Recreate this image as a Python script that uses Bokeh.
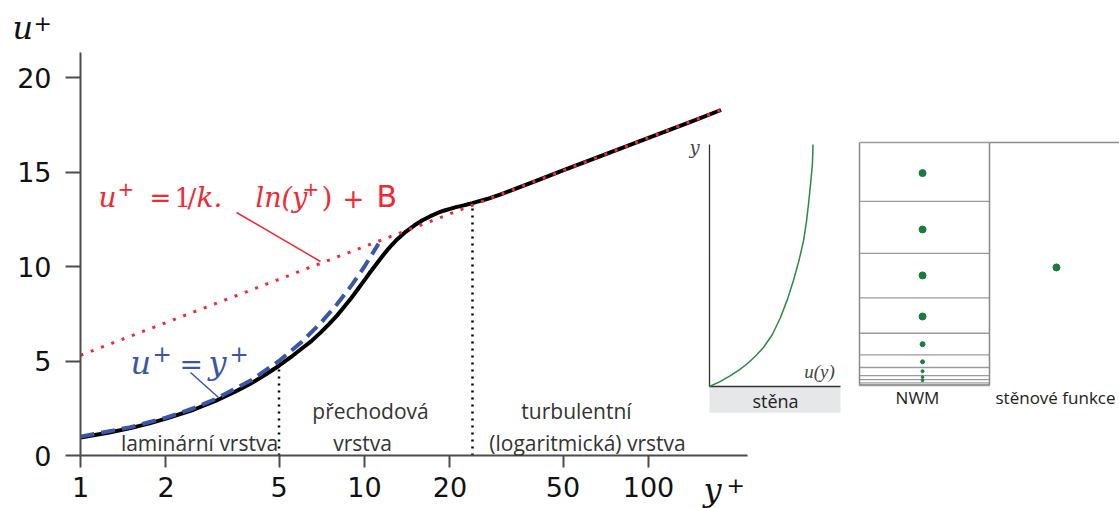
from bokeh.plotting import figure
from bokeh.models import Range1d, FixedTicker, Label, LinearScale
from bokeh.embed import file_html
from bokeh.resources import INLINE

# ---------------- main chart data ----------------
wall_yplus = [1, 1.25, 1.5, 1.75, 2, 2.5, 3, 3.5, 4, 4.5, 5, 5.5, 6, 6.5, 7, 7.5, 8, 8.5, 9, 9.5,
              10, 10.5, 11, 11.5, 12, 12.5, 13, 14, 15, 16, 17, 18, 19, 20, 21, 22, 23, 24, 25,
              27, 30, 40, 50, 70, 100, 140, 180]
wall_uplus = [0.95, 1.2, 1.45, 1.7, 1.95, 2.42, 2.9, 3.37, 3.83, 4.3, 4.75, 5.2, 5.65, 6.05, 6.5,
              6.95, 7.4, 7.88, 8.35, 8.82, 9.28, 9.72, 10.12, 10.5, 10.85, 11.15, 11.42, 11.85,
              12.18, 12.45, 12.65, 12.82, 12.95, 13.05, 13.14, 13.21, 13.28, 13.35, 13.43, 13.57,
              13.8, 14.52, 15.08, 15.92, 16.81, 17.64, 18.28]
visc_yplus = [1, 1.5, 2, 2.5, 3, 4, 5, 6, 7, 8, 9, 10, 11.2]
visc_uplus = [1, 1.5, 2, 2.5, 3, 4, 5, 6, 7, 8, 9, 10, 11.2]
log_yplus = [1, 180]
log_uplus = [5.3, 18.28]
zone_yplus = [5, 24]
zone_uplus = [4.75, 13.35]
x_ticks = [1, 2, 5, 10, 20, 50, 100]
x_tick_labels = ["1", "2", "5", "10", "20", "50", "100"]
y_ticks = [0, 5, 10, 15, 20]
y_tick_labels = ["0", "5", "10", "15", "20"]

# ---------------- inset schematics data ----------------
prof_u = [0.0, 0.08, 0.16, 0.23, 0.29, 0.35, 0.412, 0.48, 0.542, 0.595, 0.641, 0.683, 0.718, 0.74,
          0.756, 0.772, 0.786, 0.79]
prof_y = [0.0, 0.02, 0.045, 0.07, 0.095, 0.125, 0.161, 0.215, 0.285, 0.36, 0.438, 0.52, 0.603, 0.68,
          0.756, 0.84, 0.921, 1.0]
nwm_faces = [0.0, 0.004, 0.011, 0.024, 0.041, 0.074, 0.126, 0.215, 0.361, 0.544, 0.758, 1.0]
nwm_dot_eta = [0.874, 0.642, 0.453, 0.284, 0.170, 0.0975, 0.059, 0.034, 0.0206]
nwm_dot_size = [7, 7, 7, 7, 5, 4, 3, 2.5, 2.5]
wf_dot_eta = [0.486]

# ---------------- layout ----------------
W, H = 1119, 508
AX_X, AX_Y = 80, 455          # page pixel of y+ = 1 and u+ = 0
PX_PER_DEC = 284.0
PX_PER_U = 18.9


def lin_range(v0, p0, v1, p1, f0, f1):
    s = (p1 - p0) / (v1 - v0)
    return Range1d(v0 + (f0 - p0) / s, v0 + (f1 - p0) / s)


p = figure(width=W, height=H, x_axis_type="log",
           x_range=Range1d(10 ** ((0 - AX_X) / PX_PER_DEC), 10 ** ((W - AX_X) / PX_PER_DEC)),
           y_range=Range1d(-(H - AX_Y) / PX_PER_U, AX_Y / PX_PER_U),
           output_backend="svg", toolbar_location=None,
           min_border_left=0, min_border_right=0, min_border_top=0, min_border_bottom=0)
p.outline_line_color = None
p.grid.visible = False
p.background_fill_color = "white"

p.extra_x_ranges = {
    "px_x": Range1d(0, W),
    "prof_x": lin_range(0, 709, 1, 840, 0, W),
    "grid_x": lin_range(0, 859, 1, 989, 0, W),
}
p.extra_x_scales = {"px_x": LinearScale(), "prof_x": LinearScale(), "grid_x": LinearScale()}
p.extra_y_ranges = {
    "px_y": Range1d(H, 0),
    "prof_y": lin_range(0, 386, 1, 144, H, 0),
    "grid_y": lin_range(0, 385, 1, 142, H, 0),
}
p.extra_y_scales = {"px_y": LinearScale(), "prof_y": LinearScale(), "grid_y": LinearScale()}

axis_col = "#4d4d4d"
xa = p.xaxis[0]
xa.fixed_location = 0
xa.ticker = FixedTicker(ticks=x_ticks)
xa.major_label_overrides = {t: l for t, l in zip(x_ticks, x_tick_labels)}
xa.bounds = (1, 223)
xa.minor_tick_line_color = None
xa.major_tick_in = 0
xa.major_tick_out = 12
xa.major_label_standoff = 9
ya = p.yaxis[0]
ya.fixed_location = 1
ya.ticker = FixedTicker(ticks=y_ticks)
ya.major_label_overrides = {t: l for t, l in zip(y_ticks, y_tick_labels)}
ya.bounds = (0, 21.3)
ya.minor_tick_line_color = None
ya.major_tick_in = 0
ya.major_tick_out = 15
ya.major_label_standoff = 14
for ax in (xa, ya):
    ax.axis_line_color = axis_col
    ax.axis_line_width = 2
    ax.major_tick_line_color = axis_col
    ax.major_tick_line_width = 2
    ax.major_label_text_font = "DejaVu Sans"
    ax.major_label_text_font_size = "27px"
    ax.major_label_text_color = "#111111"

# ---------------- main curves ----------------
p.segment(x0=zone_yplus, y0=[0, 0], x1=zone_yplus, y1=zone_uplus, line_color="black",
          line_width=2.5, line_dash="2 5")
p.line(wall_yplus, wall_uplus, line_color="black", line_width=4, line_join="round")
p.line(visc_yplus, visc_uplus, line_color="#3a56a8", line_width=4, line_dash="14 7")
p.line(log_yplus, log_uplus, line_color="#ee2a35", line_width=3, line_dash="3 8")

# leader lines (annotation decoration, page pixels)
p.segment(x0=[236], y0=[212], x1=[320], y1=[261], line_color="#ee2a35", line_width=1.5,
          x_range_name="px_x", y_range_name="px_y")
p.segment(x0=[190], y0=[372], x1=[218], y1=[397], line_color="#3a56a8", line_width=1.5,
          x_range_name="px_x", y_range_name="px_y")

BASE_SHIFT = 0.3  # renderer places alphabetic baseline about 0.3 em low


def label(x, y, text, size, font="Open Sans", style="normal", color="#333333", align="center"):
    p.add_layout(Label(x=x, y=y - BASE_SHIFT * size, x_range_name="px_x", y_range_name="px_y",
                       text=text, text_font=font, text_font_size=f"{size}px",
                       text_font_style=style, text_color=color, text_align=align,
                       text_baseline="alphabetic"))


# axis titles
label(12, 37, "u", 32, "DejaVu Serif", "italic", "#111111", "left")
label(33, 29, "+", 22, "DejaVu Sans", "normal", "#111111", "left")
label(703, 499, "y", 32, "DejaVu Serif", "italic", "#111111", "left")
label(726, 491, "+", 22, "DejaVu Sans", "normal", "#111111", "left")

# log-law formula (red)
red = "#ee2a35"
label(98, 205, "u", 28, "DejaVu Serif", "italic", red, "left")
label(117, 194, "+", 20, "DejaVu Sans", "normal", red, "left")
label(149, 205, "=", 26, "DejaVu Sans", "normal", red, "left")
label(174, 205, "1", 26, "DejaVu Serif", "normal", red, "left")
label(187, 205, "/", 26, "DejaVu Serif", "normal", red, "left")
label(196, 205, "k.", 28, "DejaVu Serif", "italic", red, "left")
label(255, 205, "ln(y", 27, "DejaVu Serif", "italic", red, "left")
label(302, 194, "+", 20, "DejaVu Sans", "normal", red, "left")
label(321, 205, ")", 28, "DejaVu Serif", "normal", red, "left")
label(342, 205, "+", 26, "DejaVu Sans", "normal", red, "left")
label(376, 205, "B", 30, "DejaVu Sans", "normal", red, "left")

# viscous sublayer formula (blue)
blue = "#3a56a8"
label(130, 372, "u", 32, "DejaVu Serif", "italic", blue, "left")
label(152, 360, "+", 23, "DejaVu Sans", "normal", blue, "left")
label(179, 372, "=", 28, "DejaVu Sans", "normal", blue, "left")
label(208, 372, "y", 32, "DejaVu Serif", "italic", blue, "left")
label(229, 360, "+", 23, "DejaVu Sans", "normal", blue, "left")

# zone labels
label(199, 449, "laminární vrstva", 21)
label(370, 417, "přechodová", 21)
label(362, 449, "vrstva", 21)
label(576, 417, "turbulentní", 21)
label(587, 449, "(logaritmická) vrstva", 21)

# ---------------- inset 1: velocity profile near the wall ----------------
p.quad(left=[0], right=[1], bottom=[-0.108], top=[0], fill_color="#e6e7e9", line_color=None,
       x_range_name="prof_x", y_range_name="prof_y")
p.segment(x0=[0, 0], y0=[0, 0], x1=[0, 1], y1=[1, 0], line_color="#333333", line_width=1.3,
          x_range_name="prof_x", y_range_name="prof_y")
p.line(prof_u, prof_y, line_color="#2a8a3e", line_width=1.5,
       x_range_name="prof_x", y_range_name="prof_y")
label(694, 152, "y", 18, "DejaVu Serif", "italic", "#444444")
label(819, 377, "u(y)", 19, "Liberation Serif", "italic", "#444444")
label(775, 406, "stěna", 18, color="#222222")

# ---------------- inset 2: NWM grid vs wall functions ----------------
p.segment(x0=[0] * len(nwm_faces), y0=nwm_faces, x1=[1] * len(nwm_faces), y1=nwm_faces,
          line_color="#9a9a9a", line_width=1.3, x_range_name="grid_x", y_range_name="grid_y")
p.segment(x0=[0, 1, 1], y0=[0, 0, 1], x1=[0, 1, 2.2], y1=[1, 1, 1], line_color="#8a8a8a",
          line_width=1.5, x_range_name="grid_x", y_range_name="grid_y")
p.scatter([0.485] * len(nwm_dot_eta), nwm_dot_eta, size=nwm_dot_size, color="#1b7a40",
          x_range_name="grid_x", y_range_name="grid_y")
p.scatter([1.515], wf_dot_eta, size=7, color="#1b7a40",
          x_range_name="grid_x", y_range_name="grid_y")
label(917, 402, "NWM", 17, color="#222222")
label(1055, 402, "stěnové funkce", 17, color="#222222")

open("out.html", "w").write(file_html(p, INLINE))
